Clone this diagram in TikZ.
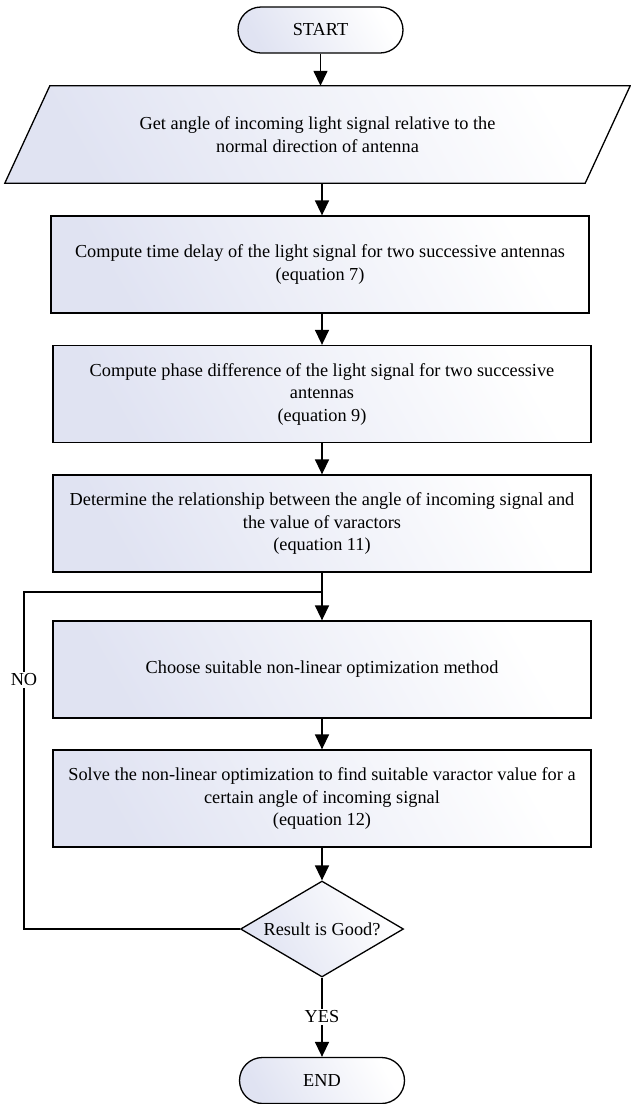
\documentclass[tikz,border=0pt]{standalone}
\usepackage{fontspec}
\setmainfont{Liberation Serif}
\usetikzlibrary{shapes.geometric,arrows.meta}
\definecolor{gradA}{RGB}{224,227,242}
\tikzset{
  every node/.style={font=\fontsize{18.3}{22.5}\selectfont},
  fillgrad/.style={left color=gradA, right color=white, shading angle=120},
  procbox/.style={draw=black, line width=1.3pt, fillgrad, minimum width=538pt, minimum height=97pt, inner sep=0pt, align=center},
  termbox/.style={draw=black, line width=1.3pt, fillgrad, rounded corners=23pt, minimum width=165pt, minimum height=46pt, inner sep=0pt},
  decbox/.style={draw=black, line width=1.3pt, fillgrad, diamond, aspect=1.7, minimum width=163pt, minimum height=96pt, inner sep=0pt},
  conn/.style={line width=1.5pt},
  arr/.style={conn, -{Triangle[length=15pt,width=14pt]}},
  lbl/.style={fill=white, inner sep=2pt}
}
\begin{document}
\begin{tikzpicture}[x=1pt,y=-1pt]
\useasboundingbox (0,0) rectangle (630,1104);
% START
\node[termbox] (start) at (320.5,30) {START};
% parallelogram (input)
\node[minimum width=580pt, minimum height=97pt, inner sep=0pt, align=center] (inp) at (317.5,134.5) {};
\filldraw[line width=1.3pt, fillgrad] ([xshift=-22.5pt]inp.south west) -- ([xshift=-22.5pt]inp.south east) -- ([xshift=22.5pt]inp.north east) -- ([xshift=22.5pt]inp.north west) -- cycle;
\node[align=center] (inptxt) at (inp.center) {Get angle of incoming light signal relative to the\\normal direction of antenna};
% process boxes
\node[procbox] (b1) at (320,264.5) {Compute time delay of the light signal for two successive antennas\\(equation 7)};
\node[procbox] (b2) at (322,394) {Compute phase difference of the light signal for two successive\\antennas\\(equation 9)};
\node[procbox] (b3) at (322,523.5) {Determine the relationship between the angle of incoming signal and\\the value of varactors\\(equation 11)};
\node[procbox] (b4) at (322,669.5) {Choose suitable non-linear optimization method};
\node[procbox] (b5) at (322,798.5) {Solve the non-linear optimization to find suitable varactor value for a\\certain angle of incoming signal\\(equation 12)};
% decision
\node[decbox] (dec) at (322,929) {Result is Good?};
% END
\node[termbox] (end) at (322,1080.5) {END};
% connectors
\draw[arr] (start.south) -- (start.south |- inp.north);
\draw[arr] (inp.south -| b2.center) -- (b1.north -| b2.center);
\draw[arr] (b1.south -| b2.center) -- (b2.north);
\draw[arr] (b2) -- (b3);
\draw[arr] (b3) -- (b4);
\draw[arr] (b4) -- (b5);
\draw[arr] (b5) -- (dec);
\coordinate (join) at (322,592);
\coordinate (lx) at (24,592);
\draw[conn] (dec.west) -- (dec.west -| lx) -- (lx) -- (join);
\node[lbl] (no) at (24,680) {NO};
\draw[arr] (dec.south) -- (end.north);
\node[lbl] (yes) at (322,1017) {YES};
\end{tikzpicture}
\end{document}
